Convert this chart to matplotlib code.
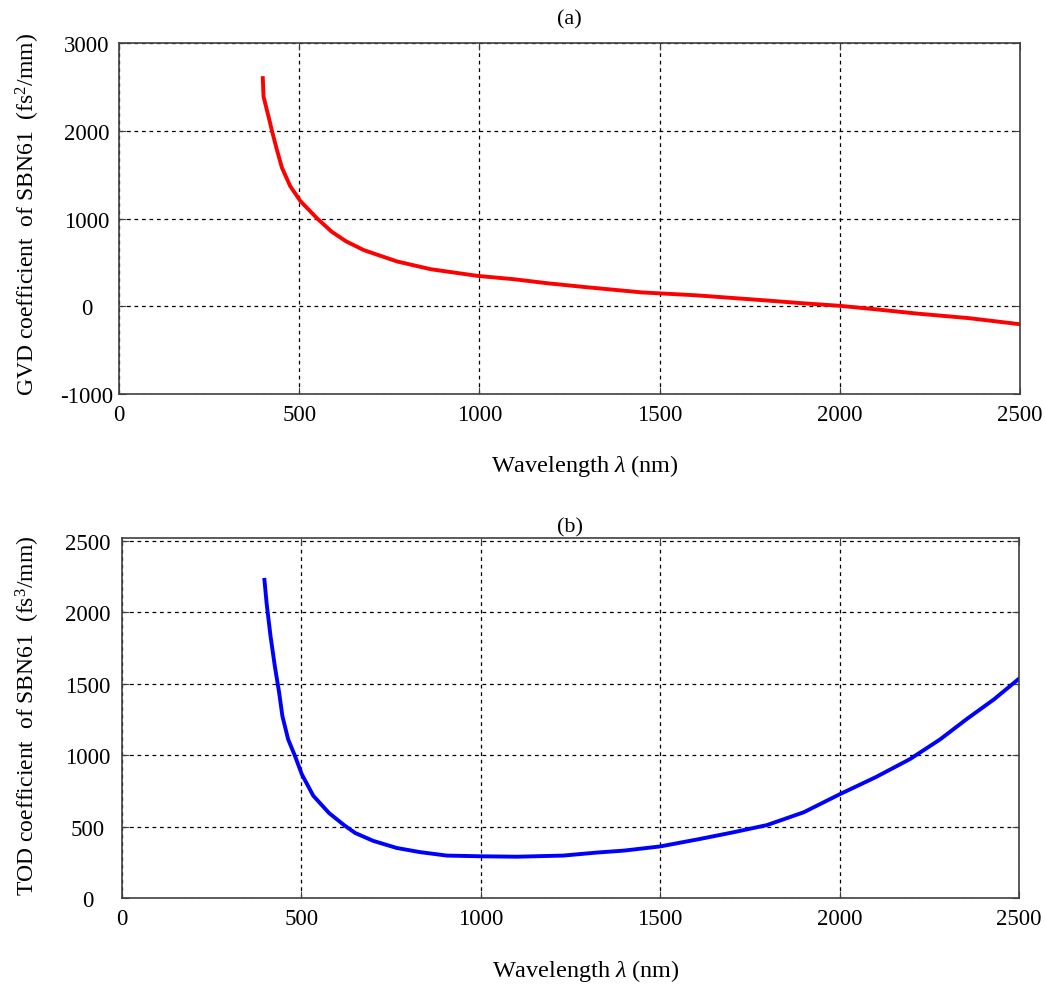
import matplotlib
matplotlib.use("Agg")
import matplotlib.pyplot as plt

plt.rcParams['font.family'] = ['Liberation Serif', 'DejaVu Serif']
plt.rcParams['mathtext.fontset'] = 'custom'
plt.rcParams['mathtext.rm'] = 'Liberation Serif'
plt.rcParams['mathtext.it'] = 'Liberation Serif:italic'
plt.rcParams['axes.unicode_minus'] = False

# GVD data (fs^2/mm)
gvd_wl = [399, 401, 415, 425, 438, 452, 475, 503, 550, 590, 630, 679, 772, 865,
          995, 1096, 1189, 1290, 1450, 1600, 1700, 1800, 1894, 2000, 2100, 2218, 2357, 2500]
gvd_val = [2600, 2390, 2160, 1990, 1785, 1580, 1370, 1200, 1000, 850, 740, 640, 510, 422,
           346, 308, 262, 220, 158, 125, 95, 65, 35, 5, -35, -85, -135, -205]

# TOD data (fs^3/mm)
tod_wl = [397, 403, 414, 426, 438, 447, 463, 482, 501, 533, 577, 619, 650, 700, 766, 831,
          905, 1000, 1100, 1230, 1323, 1400, 1500, 1610, 1700, 1797, 1900, 2001, 2100, 2196,
          2280, 2354, 2430, 2498]
tod_val = [2227, 2064, 1832, 1622, 1437, 1274, 1111, 995, 867, 716, 595, 510, 455, 400, 350, 321,
           297, 292, 289, 297, 318, 332, 361, 413, 458, 510, 600, 727, 845, 972,
           1110, 1252, 1390, 1531]

xticks = [0, 500, 1000, 1500, 2000, 2500]
gvd_yticks = [-1000, 0, 1000, 2000, 3000]
tod_yticks = [0, 500, 1000, 1500, 2000, 2500]

fig = plt.figure(figsize=(10.45, 9.87), dpi=100)
ax1 = fig.add_axes([119/1045, 1-395/987, (1020-119)/1045, (395-44)/987])
ax2 = fig.add_axes([122/1045, 1-899/987, (1019-122)/1045, (899-539)/987])

def style(ax, ypad):
    for s in ax.spines.values():
        s.set_color('#404040')
        s.set_linewidth(1.2)
    ax.grid(True, color='black', linestyle=(0, (3, 3)), linewidth=0.9)
    ax.tick_params(direction='in', top=True, right=True, labelsize=16.5,
                   length=5, color='#404040')
    ax.tick_params(axis='x', pad=7)
    ax.tick_params(axis='y', pad=ypad)
    for lab in ax.get_yticklabels():
        lab.set_horizontalalignment('center')
    ax.set_axisbelow(True)

ax1.plot(gvd_wl, gvd_val, color='#ff0000', linewidth=2.8)
ax1.set_xlim(0, 2500)
ax1.set_ylim(-1000, 3000)
ax1.set_xticks(xticks)
ax1.set_yticks(gvd_yticks)
style(ax1, 23)
ax1.set_xlabel(r'Wavelength $\lambda$ (nm)', fontsize=17.5)
ax1.xaxis.set_label_coords(0.517, -0.165)
ax1.set_ylabel(r'GVD coefficient  of SBN61  (fs$^2$/mm)', fontsize=17)
ax1.yaxis.set_label_coords(-0.086, 0.513)
ax1.set_title('(a)', fontsize=16, pad=14)

ax2.plot(tod_wl, tod_val, color='#0000ff', linewidth=2.8)
ax2.set_xlim(0, 2500)
ax2.set_ylim(0, 2520)
ax2.set_xticks(xticks)
ax2.set_yticks(tod_yticks)
style(ax2, 24.5)
ax2.set_xlabel(r'Wavelength $\lambda$ (nm)', fontsize=17.5)
ax2.xaxis.set_label_coords(0.517, -0.165)
ax2.set_ylabel(r'TOD coefficient  of SBN61  (fs$^3$/mm)', fontsize=17)
ax2.yaxis.set_label_coords(-0.089, 0.508)
ax2.set_title('(b)', fontsize=16, pad=5)

fig.savefig('out.png', dpi=100)
